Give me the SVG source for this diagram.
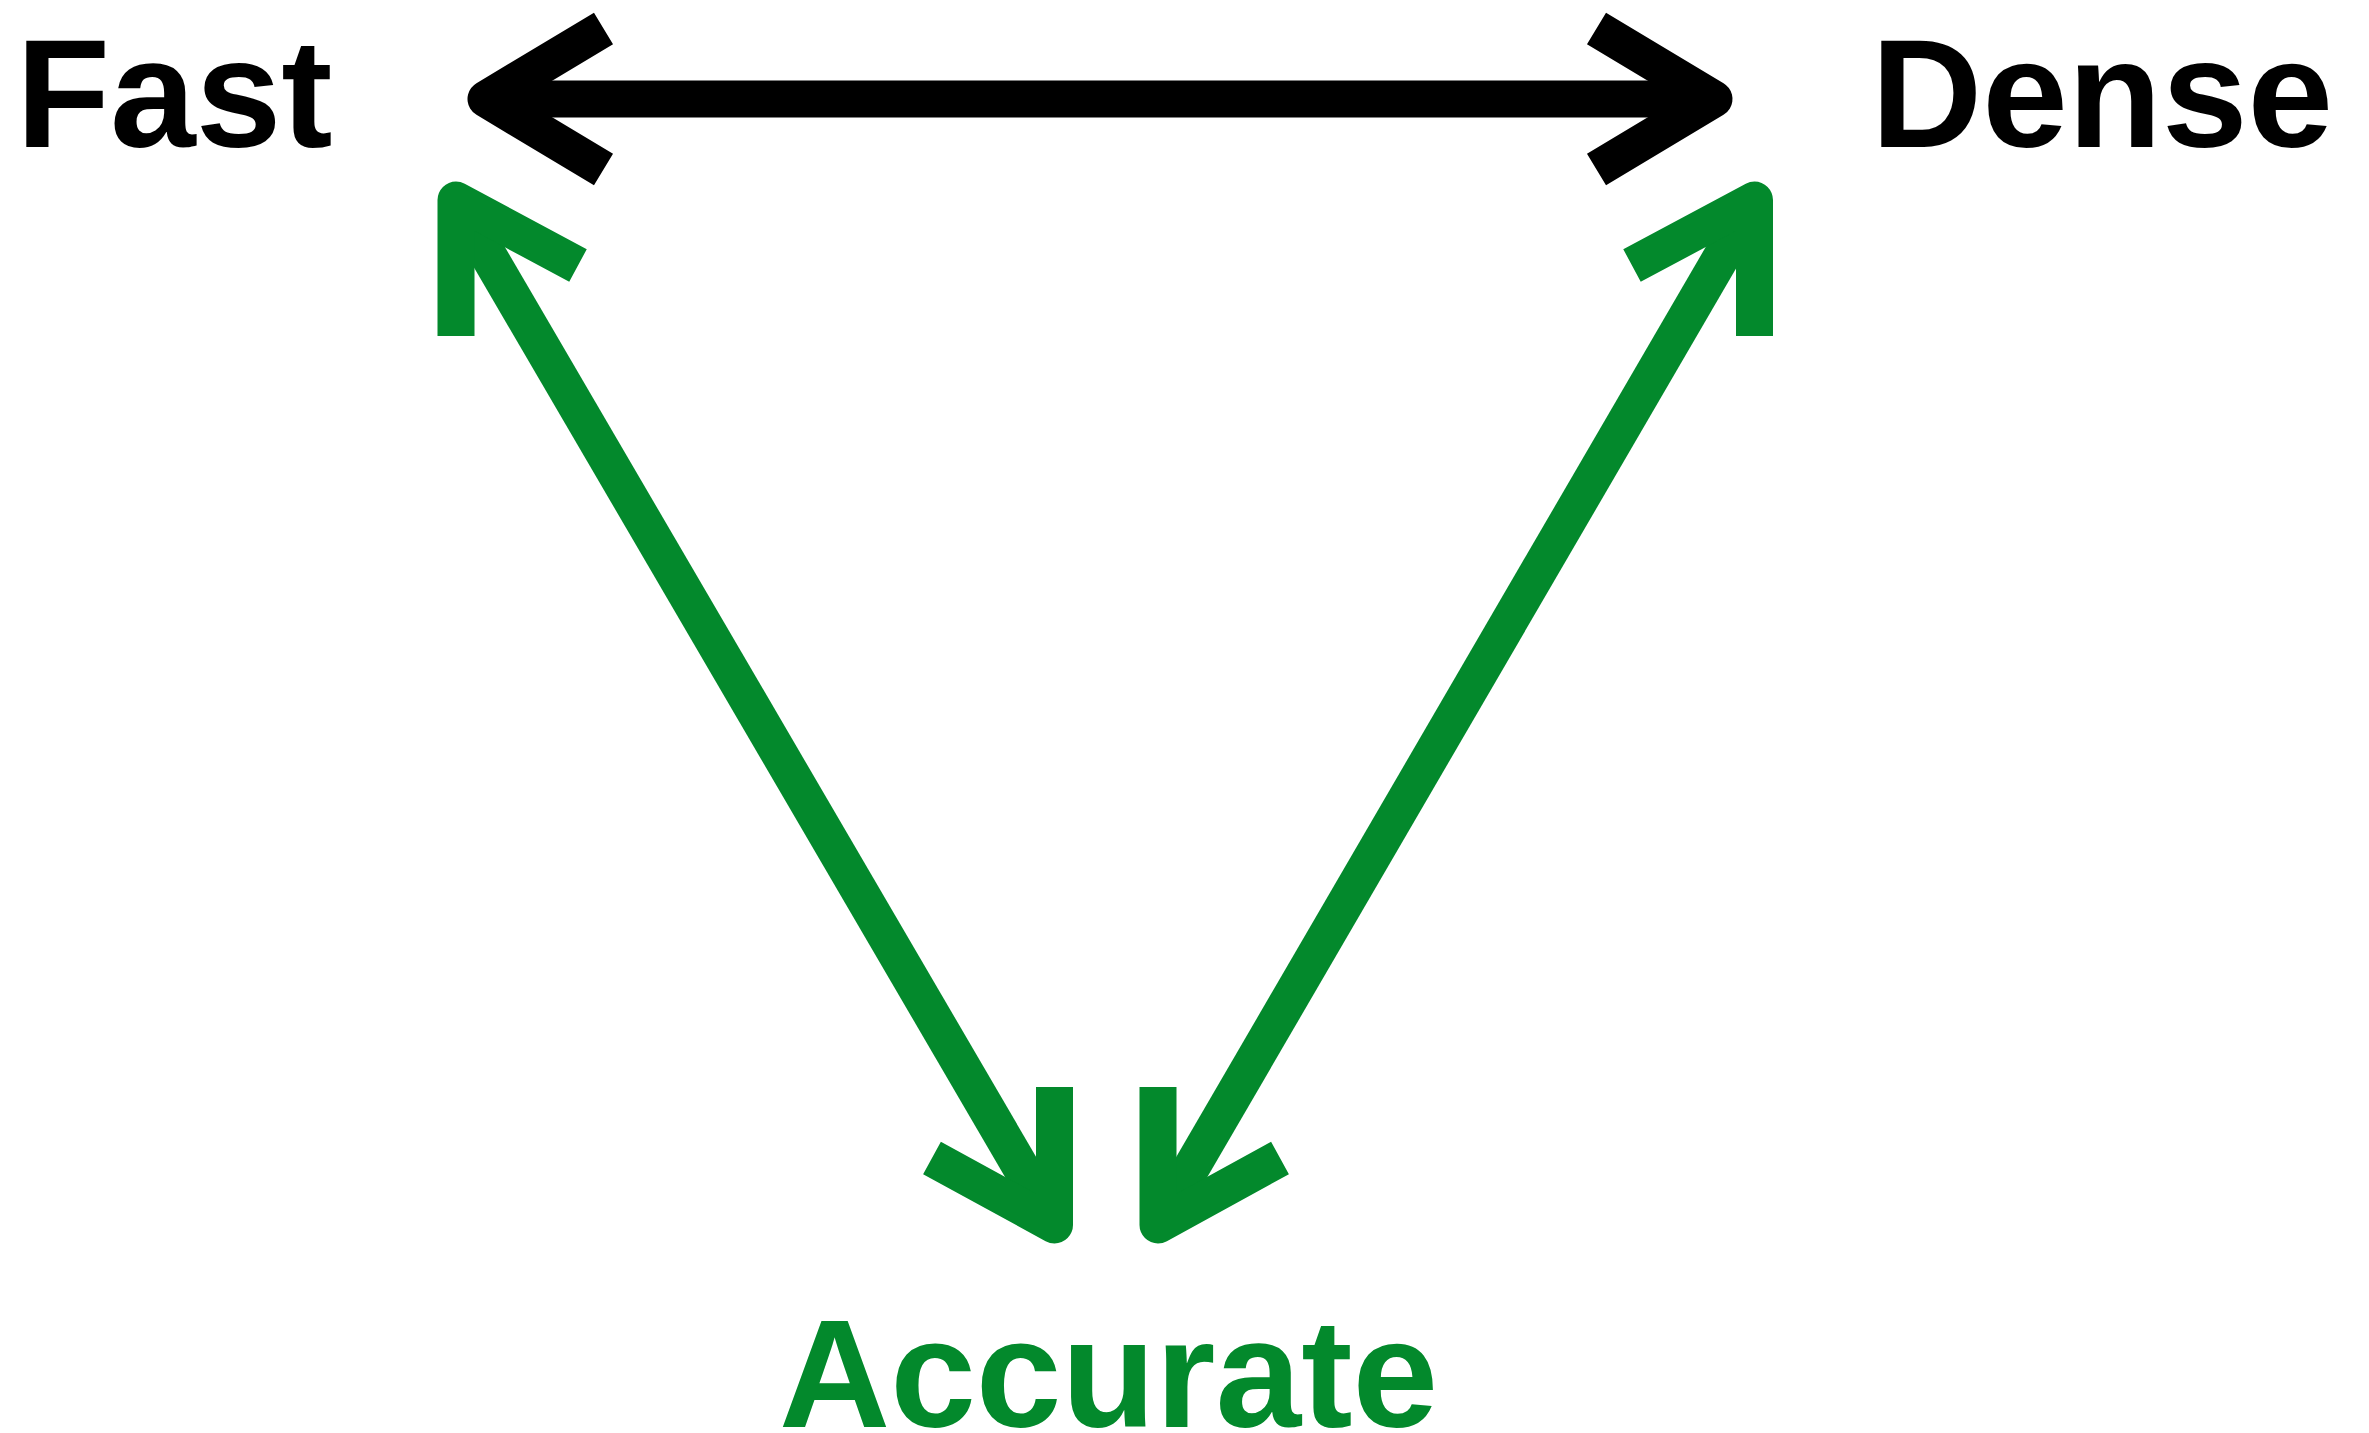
<svg xmlns="http://www.w3.org/2000/svg" width="2369" height="1433" viewBox="0 0 2369 1433">
  <style>
    .label { font-family: "Liberation Sans", Arial, Helvetica, sans-serif; font-weight: bold; font-size: 154px; }
    .black { fill: #000000; }
    .green { fill: #03892C; }
    .edge { fill: none; stroke-width: 37; stroke-linejoin: round; stroke-linecap: butt; }
    .edge-black { stroke: #000000; }
    .edge-green { stroke: #03892C; }
  </style>
  <rect width="2369" height="1433" fill="#ffffff"/>

  <!-- two-headed connectors between the three properties -->
  <g id="connectors">
    <g id="fast-dense" class="edge edge-black">
      <line x1="486" y1="99" x2="1714" y2="99"/>
      <polyline points="603.5,28.5 486,99 603.5,169.5"/>
      <polyline points="1596.5,28.5 1714,99 1596.5,169.5"/>
    </g>
    <g id="fast-accurate" class="edge edge-green">
      <line x1="456" y1="200" x2="1054.5" y2="1225"/>
      <polyline points="456,336 456,200 578,265.5"/>
      <polyline points="1054.5,1087 1054.5,1225 932,1158"/>
    </g>
    <g id="dense-accurate" class="edge edge-green">
      <line x1="1754.5" y1="200" x2="1158" y2="1225"/>
      <polyline points="1754.5,336 1754.5,200 1632,265.5"/>
      <polyline points="1158,1087 1158,1225 1280,1158"/>
    </g>
  </g>

  <!-- property labels -->
  <g id="node-fast">
    <text class="label black" x="16" y="147">Fast</text>
  </g>
  <g id="node-dense">
    <text class="label black" x="1871" y="147">Dense</text>
  </g>
  <g id="node-accurate">
    <text class="label green" x="779" y="1427">Accurate</text>
  </g>
</svg>
